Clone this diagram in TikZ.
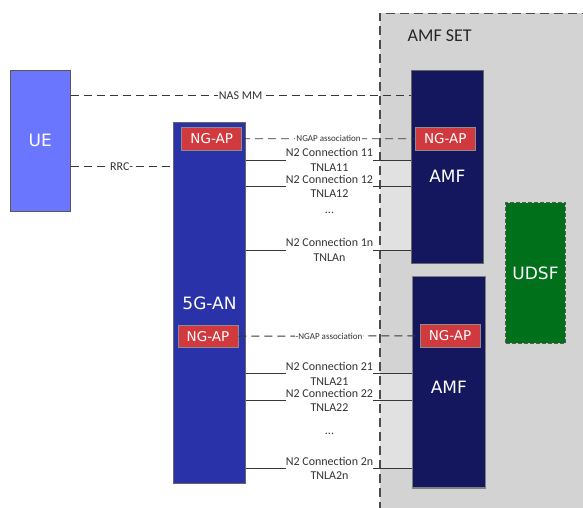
\documentclass[tikz,border=0pt]{standalone}
\usepackage{fontspec}
\setmainfont{Carlito}
\newfontfamily\blocfont{DejaVu Sans}
\usetikzlibrary{positioning,calc}
\definecolor{uebleu}{RGB}{107,118,255}
\definecolor{anbleu}{RGB}{41,50,168}
\definecolor{amfbleu}{RGB}{20,23,94}
\definecolor{ngaprouge}{RGB}{208,58,62}
\definecolor{udsfvert}{RGB}{0,112,26}
\definecolor{setgris}{RGB}{211,211,211}
\definecolor{bandegris}{RGB}{225,225,225}
\definecolor{traitgris}{RGB}{55,55,55}
\tikzset{
  bloc/.style={draw=black!60, line width=0.9pt, text=white, inner sep=0pt,
    font=\blocfont\fontsize{17}{20}\selectfont},
  titre/.style={text=white, inner sep=0pt, font=\blocfont\fontsize{17}{20}\selectfont},
  ngap/.style={draw=black!45, line width=0.8pt, fill=ngaprouge, text=white, inner sep=0pt,
    font=\blocfont\fontsize{13.5}{16}\selectfont, minimum width=60, minimum height=22.5},
  signal/.style={draw=traitgris, line width=0.9pt, dash pattern=on 8pt off 5pt},
  etiquette/.style={fill=white, inner sep=1pt, text=black!80, font=\fontsize{12}{14}\selectfont},
  petite/.style={fill=white, inner sep=1pt, text=black!80, font=\fontsize{9}{11}\selectfont},
  connexion/.style={align=center, inner sep=0pt, text=black!80, font=\fontsize{12}{14.5}\selectfont},
  lien/.style={draw=traitgris, line width=0.8pt},
  groupe/.style={draw=black!70, line width=1.2pt, dash pattern=on 9pt off 5pt},
}
\begin{document}
\begin{tikzpicture}[x=1pt,y=-1pt]
    \path[use as bounding box] (0,0) rectangle (583,508);
    % AMF SET
    \fill[setgris] (380,13.3) rectangle (600,520);
    \fill[bandegris] (380,160) rectangle (412,250);
    \fill[bandegris] (380,373.7) rectangle (412,468.3);
    \draw[groupe] (380,525) -- (380,13.3) -- (600,13.3);
    \node[text=black!85, inner sep=0pt, font=\fontsize{18}{20}\selectfont] (amfset) at (439.7,35.7) {AMF SET};
    % Blocs
    \node[bloc, draw=black!65, fill=uebleu, minimum width=59.7, minimum height=140.7] (ue) at (40.2,140.7) {UE};
    \node[bloc, fill=anbleu, minimum width=72.5, minimum height=360.6] (an) at (209.5,303) {5G-AN};
    \node[bloc, fill=amfbleu, minimum width=72.5, minimum height=193,
      label={[titre, yshift=-10pt]center:AMF}] (amfun) at (447.3,166.8) {};
    \node[bloc, draw=black!50, line width=1.2pt, fill=amfbleu, minimum width=72.7, minimum height=211.3,
      label={[titre, yshift=-4.7pt]center:AMF}] (amfdeux) at (448.8,382.3) {};
    \node[bloc, draw=black!65, dash pattern=on 4pt off 2pt, line width=1.2pt, fill=udsfvert,
      minimum width=59.6, minimum height=140.6] (udsf) at (535.5,273) {UDSF};
    % NG-AP
    \node[ngap] (ngapan1)   at (211.7,138.7) {NG-AP};
    \node[ngap] (ngapan2)   at (208,336.2)   {NG-AP};
    \node[ngap] (ngapamf1)  at (445.3,138.8) {NG-AP};
    \node[ngap] (ngapamf2)  at (450,335.8)   {NG-AP};
    % Signalisation
    \draw[signal] (ue.east |- 0,95.7) -- node[etiquette] {NAS MM} (amfun.west |- 0,95.7);
    \draw[signal] (ue.east |- 0,166.7) -- node[etiquette] {RRC-} (an.west |- 0,166.7);
    \draw[signal] (ngapan1.east) -- node[petite] {NGAP association} (ngapamf1.west);
    \draw[signal] (ngapan2.east) -- node[petite] {-NGAP association} (ngapamf2.west);
    % Connexions N2
    \foreach \y/\a/\b/\c in {160/11/TNLA11/amfun, 186.3/12/TNLA12/amfun, 250/1n/TNLAn/amfun,
        373.7/21/TNLA21/amfdeux, 400.3/22/TNLA22/amfdeux, 468.3/2n/TNLA2n/amfdeux} {
      \node[connexion] (n2-\a) at (329.5,\y) {N2 Connection \a\\\b};
      \draw[lien] (an.east |- n2-\a.west) -- (n2-\a.west);
      \draw[lien] (n2-\a.east) -- (\c.west |- n2-\a.east);
    }
    \node[connexion] (pts1) at (329.5,212.7) {...};
    \node[connexion] (pts2) at (329.5,434) {...};
  \end{tikzpicture}
\end{document}
